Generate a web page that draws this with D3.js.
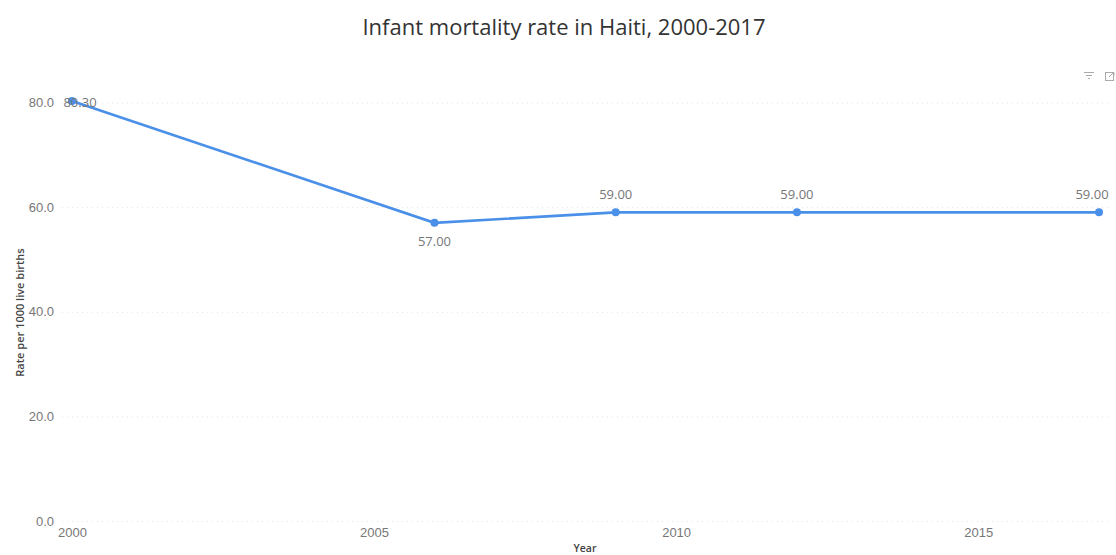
<!DOCTYPE html>
<html>
<head>
<meta charset="utf-8">
<script src="https://cdn.jsdelivr.net/npm/d3@7"></script>
<style>
  html, body { margin: 0; padding: 0; background: #fff; }
  svg { display: block; font-family: "Open Sans", "Noto Sans", sans-serif; }
</style>
</head>
<body>
<div id="chart"></div>
<script>
const years = [2000, 2006, 2009, 2012, 2017];
const rates = [80.3, 57, 59, 59, 59];
const labelBelow = [false, true, false, false, false];
const xTicks = [2000, 2005, 2010, 2015];
const yTicks = [0, 20, 40, 60, 80];

const width = 1116, height = 555;
const svg = d3.select("#chart").append("svg").attr("width", width).attr("height", height);

const x = d3.scaleLinear().domain([2000, 2017]).range([72, 1099]);
const y = d3.scaleLinear().domain([0, 80]).range([521, 102.5]);

// Title
svg.append("text").attr("x", 564).attr("y", 35).attr("text-anchor", "middle")
  .attr("font-size", 22).attr("fill", "#333").text("Infant mortality rate in Haiti, 2000-2017");

// Dotted horizontal gridlines with value labels
const yAxis = svg.append("g").attr("transform", "translate(62,0)")
  .call(d3.axisLeft(y).tickValues(yTicks).tickFormat(d3.format(".1f")).tickSize(0).tickPadding(8));
yAxis.select(".domain").remove();
yAxis.selectAll("text").attr("font-size", 13).attr("font-family", "inherit").attr("fill", "#777");
yAxis.selectAll(".tick").append("line")
  .attr("x1", 0).attr("x2", 1108 - 62)
  .attr("stroke", "#e2e2e2").attr("stroke-width", 1).attr("stroke-dasharray", "1 4");

// Year axis
const xAxis = svg.append("g").attr("transform", "translate(0,528)")
  .call(d3.axisBottom(x).tickValues(xTicks).tickFormat(d3.format("d")).tickSize(0).tickPadding(0));
xAxis.select(".domain").remove();
xAxis.selectAll("text").attr("font-size", 13).attr("font-family", "inherit").attr("fill", "#777");

// Axis titles
svg.append("text").attr("x", 585).attr("y", 552).attr("text-anchor", "middle")
  .attr("font-size", 10.5).attr("font-weight", 600).attr("fill", "#444").text("Year");
svg.append("text").attr("transform", "translate(24,312.5) rotate(-90)").attr("text-anchor", "middle")
  .attr("font-size", 11).attr("font-weight", 600).attr("fill", "#444").text("Rate per 1000 live births");

// Rate line and points
const points = years.map((yr, i) => ({ yr, rate: rates[i], below: labelBelow[i] }));
svg.append("path").datum(points)
  .attr("fill", "none").attr("stroke", "#4a90e8").attr("stroke-width", 2.6)
  .attr("d", d3.line().x(d => x(d.yr)).y(d => y(d.rate)));
svg.selectAll("circle.pt").data(points).join("circle").attr("class", "pt")
  .attr("cx", d => x(d.yr)).attr("cy", d => y(d.rate)).attr("r", 4).attr("fill", "#4a90e8");

// Value labels
svg.selectAll("text.val").data(points).join("text").attr("class", "val")
  .attr("x", (d, i) => i === 0 ? x(d.yr) + 8 : (i === points.length - 1 ? x(d.yr) - 7 : x(d.yr)))
  .attr("y", (d, i) => i === 0 ? y(d.rate) + 6 : (d.below ? y(d.rate) + 23 : y(d.rate) - 13))
  .attr("text-anchor", "middle").attr("font-size", 13).attr("fill", "#777")
  .text(d => d3.format(".2f")(d.rate));

// Filter and focus-mode glyphs in the visual header
const header = svg.append("g").attr("fill", "none").attr("stroke", "#aaa").attr("stroke-width", 1);
header.append("path").attr("d", "M1084 72.5h10M1086 75.5h6M1088 78.5h2");
header.append("rect").attr("x", 1105.5).attr("y", 72.5).attr("width", 8).attr("height", 8);
header.append("path").attr("d", "M1109 77l4 -4M1111 72.5h3v3");
</script>
</body>
</html>
